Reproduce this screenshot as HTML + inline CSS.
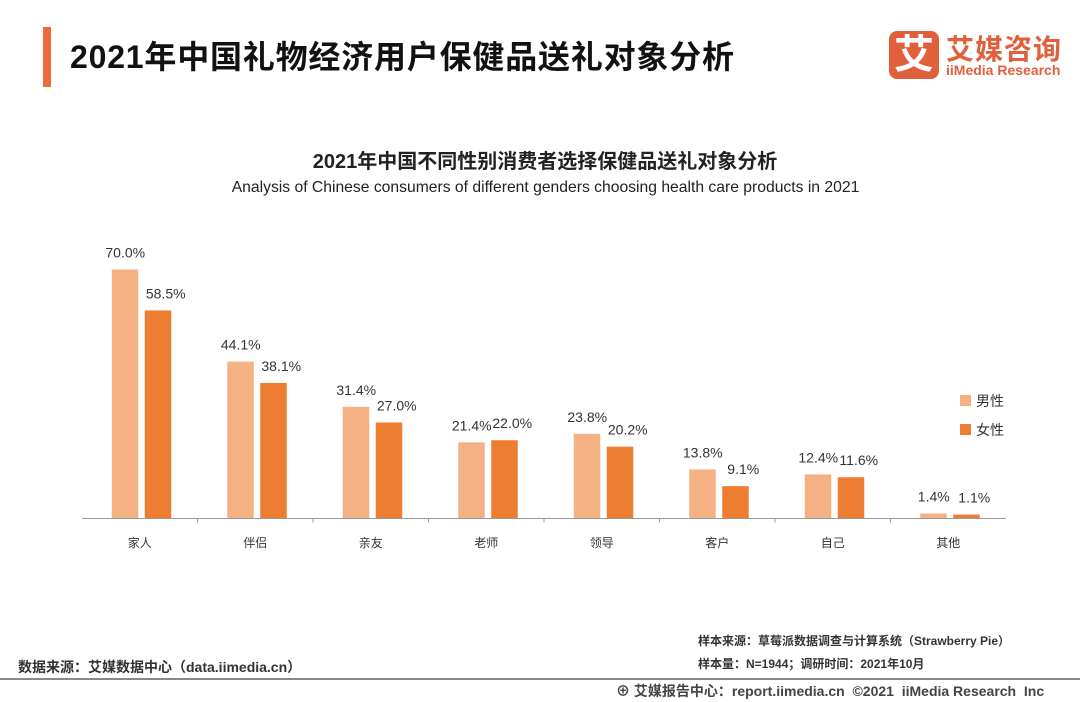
<!DOCTYPE html>
<html><head><meta charset="utf-8"><style>
body{margin:0;width:1080px;height:702px;background:#fff;overflow:hidden;font-family:"Liberation Sans","Noto Sans CJK SC",sans-serif;position:relative}
.a{position:absolute}
</style></head><body>
<div class="a" style="left:43px;top:27px;width:8px;height:60px;background:#ee6a3a"></div>
<div class="a" style="left:70px;top:32px;font-size:32px;font-weight:bold;color:#111;letter-spacing:0.8px">2021年中国礼物经济用户保健品送礼对象分析</div>
<div class="a" style="left:889px;top:31px;width:50px;height:48px;background:#e0603c;border-radius:8px;color:#fff;font-size:40px;font-weight:bold;text-align:center;line-height:48px">艾</div>
<div class="a" style="left:946px;top:28px;color:#e0603c;font-size:28px;font-weight:bold;letter-spacing:1px">艾媒咨询</div>
<div class="a" style="left:946px;top:62px;color:#e0603c;font-size:14px;font-weight:bold">iiMedia Research</div>
<div class="a" style="left:0;width:1090px;text-align:center;top:145px;font-size:20px;font-weight:bold;color:#222">2021年中国不同性别消费者选择保健品送礼对象分析</div>
<div class="a" style="left:0;width:1091px;text-align:center;top:179px;font-size:15.7px;color:#222">Analysis of Chinese consumers of different genders choosing health care products in 2021</div>
<svg class="a" style="left:0;top:0" width="1080" height="702" id="chart"></svg>
<div class="a" style="left:18px;top:657px;font-size:14px;font-weight:bold;color:#333">数据来源：艾媒数据中心（data.iimedia.cn）</div>
<div class="a" style="left:698px;top:632px;font-size:12px;font-weight:bold;color:#333">样本来源：草莓派数据调查与计算系统（Strawberry Pie）</div>
<div class="a" style="left:698px;top:655px;font-size:12px;font-weight:bold;color:#333">样本量：N=1944；调研时间：2021年10月</div>
<div class="a" style="left:0;top:678px;width:1080px;height:2px;background:#888"></div>
<div class="a" style="left:616px;top:681px;font-size:14px;font-weight:bold;color:#444">⊕ 艾媒报告中心：report.iimedia.cn &nbsp;©2021 &nbsp;iiMedia Research &nbsp;Inc</div>
<script>
const categories=["家人","伴侣","亲友","老师","领导","客户","自己","其他"];
const maleValues=[70.0,44.1,31.4,21.4,23.8,13.8,12.4,1.4];
const femaleValues=[58.5,38.1,27.0,22.0,20.2,9.1,11.6,1.1];
const legendLabels=["男性","女性"];
const svg=document.getElementById('chart');const NS='http://www.w3.org/2000/svg';
const x0=82,x1=1006,base=518.5,scale=249/70,step=(x1-x0)/categories.length;
const y=v=>base-v*scale, cx=i=>x0+step*(i+0.5);
function mk(t,a,txt){const e=document.createElementNS(NS,t);for(const k in a)e.setAttribute(k,a[k]);if(txt!==undefined)e.textContent=txt;svg.appendChild(e);return e;}
categories.forEach((c,i)=>{
 const m=mk('rect',{x:cx(i)-28,y:y(maleValues[i]),width:26.5,height:maleValues[i]*scale,fill:'#f4b183'});
 
 const f=mk('rect',{x:cx(i)+5,y:y(femaleValues[i]),width:26.5,height:femaleValues[i]*scale,fill:'#ed7d31'});
 
 const ml=mk('text',{x:cx(i)-14.5,y:y(maleValues[i])-12,'text-anchor':'middle','font-size':14,fill:'#333'},maleValues[i].toFixed(1)+'%');
 
 const fl=mk('text',{x:cx(i)+26,y:y(femaleValues[i])-12,'text-anchor':'middle','font-size':14,fill:'#333'},femaleValues[i].toFixed(1)+'%');
 
 const cl=mk('text',{x:cx(i),y:547,'text-anchor':'middle','font-size':12,fill:'#333'},c);
 
 if(i>0){const t=mk('line',{x1:x0+step*i,x2:x0+step*i,y1:base,y2:base+4,stroke:'#999'});}
});
const ax=mk('line',{x1:x0,x2:x1,y1:base,y2:base,stroke:'#999','stroke-width':1});

['#f4b183','#ed7d31'].forEach((col,k)=>{
 const r=mk('rect',{x:960,y:395+k*29,width:11,height:11,fill:col});
 
 const t=mk('text',{x:976,y:406+k*29,'font-size':14,fill:'#333'},legendLabels[k]);
 
});
</script>
</body></html>
